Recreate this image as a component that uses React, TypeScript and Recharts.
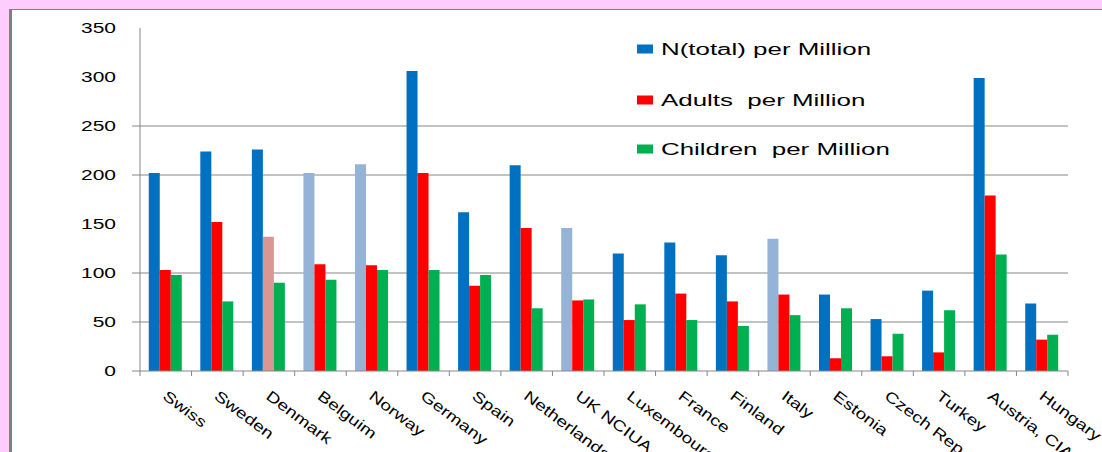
import React from 'react';
import { BarChart, Bar, XAxis, YAxis, CartesianGrid, Legend, Cell } from 'recharts';

// Registry counts per million inhabitants, by country
const countries = [
  'Swiss', 'Sweden', 'Denmark', 'Belguim', 'Norway', 'Germany', 'Spain', 'Netherlands', 'UK NCIUA',
  'Luxembourg', 'France', 'Finland', 'Italy', 'Estonia', 'Czech Rep', 'Turkey', 'Austria, CIA', 'Hungary',
];
const totalPerMillion = [202, 224, 226, 202, 211, 306, 162, 210, 146, 120, 131, 118, 135, 78, 53, 82, 299, 69];
const adultsPerMillion = [103, 152, 137, 109, 108, 202, 87, 146, 72, 52, 79, 71, 78, 13, 15, 19, 179, 32];
const childrenPerMillion = [98, 71, 90, 93, 103, 103, 98, 64, 73, 68, 52, 46, 57, 64, 38, 62, 119, 37];

const yTicks = [0, 50, 100, 150, 200, 250, 300, 350];
const gridValues = [50, 100, 200, 250];
const tickMarkValues = [0, 50, 100, 200, 250];

const seriesNames = ['N(total) per Million', 'Adults  per Million', 'Children  per Million'];

// countries whose bars are drawn in the muted shade
const mutedTotal = ['Belguim', 'Norway', 'UK NCIUA', 'Italy'];
const mutedAdults = ['Denmark'];

const BLUE = '#0070C0';
const BLUE_MUTED = '#95B3D7';
const RED = '#FF0000';
const RED_MUTED = '#DA9694';
const GREEN = '#00B050';
const AXIS = '#868686';
const FONT = '"Liberation Sans", Arial, sans-serif';

const data = countries.map((country, i) => ({
  country,
  total: totalPerMillion[i],
  adults: adultsPerMillion[i],
  children: childrenPerMillion[i],
}));

function ValueTick(props: any) {
  const { x, y, payload } = props;
  const axisX = x + 16;
  return (
    <g>
      {tickMarkValues.includes(payload.value) && (
        <line x1={axisX} y1={y} x2={axisX + 8} y2={y} stroke={AXIS} strokeWidth={1} />
      )}
      <text
        transform={`translate(${x},${y}) scale(1.4,1)`}
        textAnchor="end"
        dy="0.36em"
        fontSize={15}
        fontFamily={FONT}
        fill="#000"
      >
        {payload.value}
      </text>
    </g>
  );
}

function CountryTick(props: any) {
  const { x, y, payload, index, visibleTicksCount } = props;
  const half = typeof payload.offset === 'number' && payload.offset > 0 ? payload.offset : 928 / 18 / 2;
  return (
    <g>
      <line x1={x - half} y1={y} x2={x - half} y2={y + 5} stroke={AXIS} strokeWidth={1} />
      {index === visibleTicksCount - 1 && (
        <line x1={x + half} y1={y} x2={x + half} y2={y + 5} stroke={AXIS} strokeWidth={1} />
      )}
      <text
        transform={`translate(${x - 4},${y + 27}) rotate(37) scale(1.28,1)`}
        textAnchor="start"
        fontSize={15}
        fontFamily={FONT}
        fill="#000"
      >
        {payload.value}
      </text>
    </g>
  );
}

function SeriesLegend(props: any) {
  const payload = [...(props.payload || [])].sort(
    (a: any, b: any) => seriesNames.indexOf(a.value) - seriesNames.indexOf(b.value),
  );
  const rows = [14, 65, 114];
  return (
    <svg width={300} height={130} style={{ display: 'block' }}>
      {payload.map((entry: any, i: number) => (
        <g key={entry.value}>
          <rect x={5} y={rows[i] - 4.5} width={16} height={9} fill={entry.color} />
          <text
            transform={`translate(29,${rows[i]}) scale(1.62,1)`}
            dy="0.36em"
            fontSize={16}
            fontFamily={FONT}
            fill="#000"
            style={{ whiteSpace: 'pre' }}
          >
            {entry.value}
          </text>
        </g>
      ))}
    </svg>
  );
}

export default function App() {
  return (
    <div
      style={{
        position: 'fixed',
        left: 0,
        top: 0,
        width: 1102,
        height: 452,
        background: '#FFCCFF',
        overflow: 'hidden',
      }}
    >
      <div
        style={{
          position: 'absolute',
          left: 9,
          top: 9,
          width: 1093,
          height: 443,
          boxSizing: 'border-box',
          background: '#FFFFFF',
          borderLeft: '3px solid #808080',
          borderTop: '1px solid #808080',
        }}
      >
        <BarChart
          width={1090}
          height={442}
          data={data}
          margin={{ top: 18, right: 34, bottom: 0, left: 0 }}
          barCategoryGap="17%"
          barGap={0}
        >
          <CartesianGrid vertical={false} horizontalValues={gridValues} stroke={AXIS} strokeWidth={1} />
          <XAxis
            dataKey="country"
            interval={0}
            height={81}
            tickLine={false}
            tickSize={0}
            tickMargin={0}
            axisLine={{ stroke: AXIS, strokeWidth: 1 }}
            tick={<CountryTick />}
          />
          <YAxis
            width={128}
            domain={[0, 350]}
            ticks={yTicks}
            interval={0}
            tickLine={false}
            tickSize={8}
            tickMargin={16}
            axisLine={{ stroke: AXIS, strokeWidth: 1 }}
            tick={<ValueTick />}
          />
          <Legend
            layout="vertical"
            align="center"
            verticalAlign="middle"
            content={<SeriesLegend />}
            wrapperStyle={{ position: 'absolute', left: 620, top: 25, width: 300, height: 130 }}
          />
          <Bar dataKey="total" name={seriesNames[0]} fill={BLUE} isAnimationActive={false}>
            {data.map((d) => (
              <Cell key={d.country} fill={mutedTotal.includes(d.country) ? BLUE_MUTED : BLUE} />
            ))}
          </Bar>
          <Bar dataKey="adults" name={seriesNames[1]} fill={RED} isAnimationActive={false}>
            {data.map((d) => (
              <Cell key={d.country} fill={mutedAdults.includes(d.country) ? RED_MUTED : RED} />
            ))}
          </Bar>
          <Bar dataKey="children" name={seriesNames[2]} fill={GREEN} isAnimationActive={false}>
            {data.map((d) => (
              <Cell key={d.country} fill={GREEN} />
            ))}
          </Bar>
        </BarChart>
      </div>
    </div>
  );
}
